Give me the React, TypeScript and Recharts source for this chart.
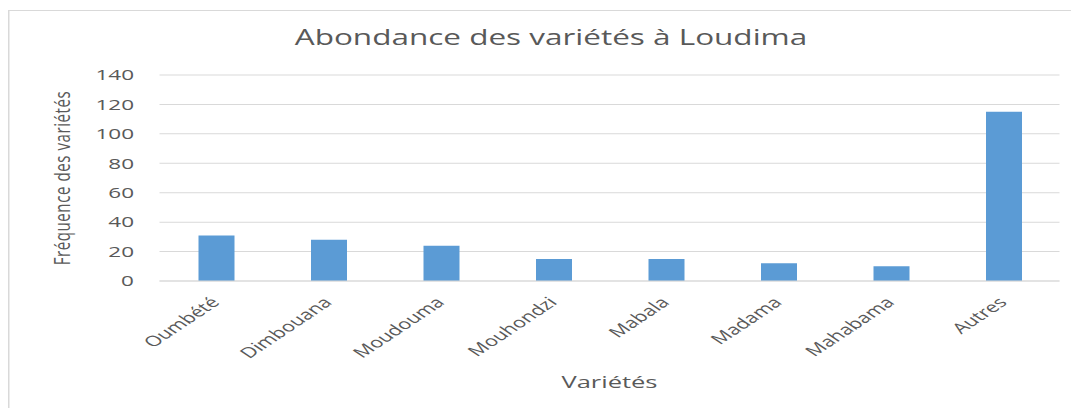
import React from 'react';
import { BarChart, Bar, XAxis, YAxis, CartesianGrid, Customized } from 'recharts';

const categories = ['Oumbété', 'Dimbouana', 'Moudouma', 'Mouhondzi', 'Mabala', 'Madama', 'Mahabama', 'Autres'];
const frequencies = [31, 28, 24, 15, 15, 12, 10, 115];
const yTicks = [0, 20, 40, 60, 80, 100, 120, 140];
const chartTitle = 'Abondance des variétés à Loudima';
const xTitle = 'Variétés';
const yTitle = 'Fréquence des variétés';

const data = categories.map((c, i) => ({ name: c, value: frequencies[i] }));

const FONT = "'Open Sans', sans-serif";
const TEXT = '#595959';
const GRID = '#d9d9d9';
const BAR = '#5b9bd5';

const Titles = () => (
  <g fontFamily={FONT} fill={TEXT}>
    <text x={361} y={34} textAnchor="middle" fontSize={21}>{chartTitle}</text>
    <text x={400} y={377} textAnchor="middle" fontSize={17}>{xTitle}</text>
    <text
      x={35}
      y={167}
      textAnchor="middle"
      dominantBaseline="central"
      fontSize={15}
      letterSpacing={0.6}
      transform="rotate(-90, 35, 167)"
    >
      {yTitle}
    </text>
  </g>
);

export default function App() {
  return (
    <div style={{ width: 1071, height: 398, marginTop: 2, overflow: 'hidden' }}>
      <div
        style={{
          width: 714,
          height: 397,
          transform: 'scaleX(1.5)',
          transformOrigin: '0 0',
          borderTop: `1px solid ${GRID}`,
          borderLeft: `1px solid ${GRID}`,
          background: '#fff',
        }}
      >
        <BarChart
          width={714}
          height={397}
          data={data}
          margin={{ top: 64, right: 14, left: 40, bottom: 57 }}
        >
          <CartesianGrid vertical={false} stroke={GRID} />
          <XAxis
            dataKey="name"
            interval={0}
            tickLine={false}
            axisLine={{ stroke: GRID }}
            tickSize={0}
            tickMargin={15}
            height={70}
            tick={{ angle: -45, textAnchor: 'end', fontSize: 14.5, fill: TEXT, fontFamily: FONT, dx: -4 }}
          />
          <YAxis
            domain={[0, 140]}
            ticks={yTicks}
            width={60}
            tickLine={false}
            axisLine={false}
            tickSize={0}
            tickMargin={17}
            tick={{ fontSize: 15, fill: TEXT, fontFamily: FONT }}
          />
          <Bar dataKey="value" fill={BAR} barSize={24} isAnimationActive={false} />
          <Customized component={Titles} />
        </BarChart>
      </div>
    </div>
  );
}
